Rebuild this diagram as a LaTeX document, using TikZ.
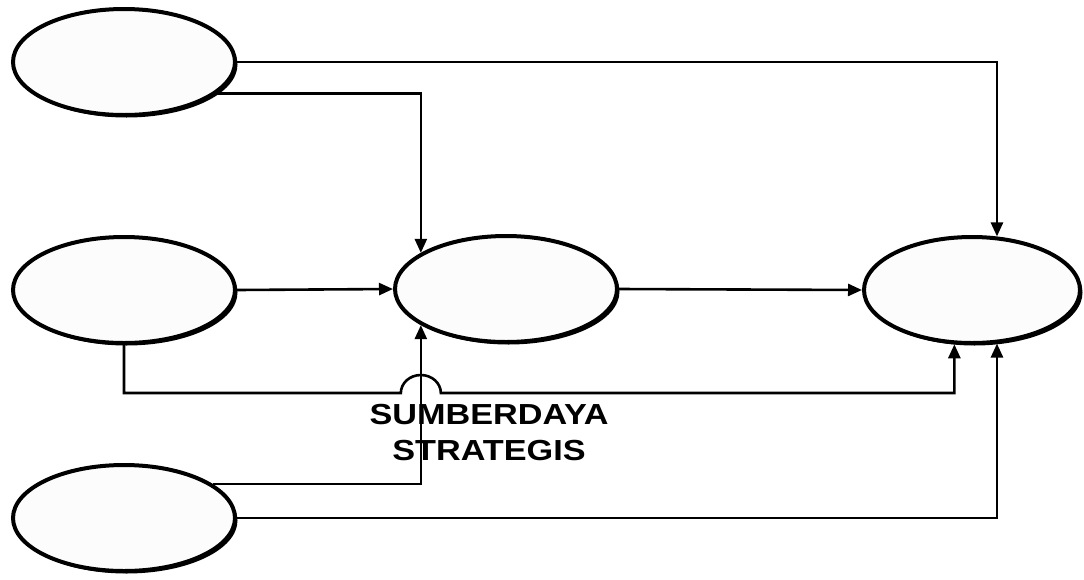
\documentclass[tikz,border=0pt]{standalone}
\usepackage{fontspec}
\setmainfont{Liberation Sans}
\usetikzlibrary{shapes.geometric,shadows,arrows.meta,calc}
\begin{document}
\begin{tikzpicture}[x=1pt,y=-1pt,
  construct/.style={ellipse,draw=black,line width=4pt,fill=black!1,
    minimum width=222pt,minimum height=106pt,inner sep=0pt,
    drop shadow={shadow xshift=2.5pt,shadow yshift=-2.5pt,opacity=1,fill=black}},
  conn/.style={line width=2.6pt,-{Triangle[length=14pt,width=12pt]}},
  caption/.style={font=\bfseries\fontsize{29}{36}\selectfont,align=center,inner sep=0pt}]
\useasboundingbox (0,0) rectangle (1084,579);

% latent variables
\node[construct] (e1) at (124,62) {};
\node[construct] (e2) at (124,290) {};
\node[construct] (e4) at (124,518) {};
\node[construct] (e3) at (506,289) {};
\node[construct,minimum width=216pt] (e5) at (972,290) {};

% label under the central construct
\node[caption] (lbl) at (489,433) {\scalebox{1.18}[1]{SUMBERDAYA}\\\scalebox{1.18}[1]{STRATEGIS}};

% direct paths
\draw[conn] (e1.east) -| (e5.65);
\draw[conn] (e1.-19) -| (e3.157);
\draw[conn] (e2.east) -- (e3.west);
\draw[conn] (e3.east) -- (e5.west);
\draw[conn] (e4.21) -| (e3.203);
\draw[conn] (e4.east) -| (e5.-65);

% path from the middle construct, hopping over the vertical line
\coordinate (hop) at (e3.203 |- 0,393);
\draw[conn] (e2.south) -- (e2.south |- 0,393)
  -- ($(hop)+(-20,0)$) arc[start angle=180,end angle=360,x radius=20,y radius=18]
  -- (e5.252 |- 0,393) -- (e5.252);
\end{tikzpicture}
\end{document}
